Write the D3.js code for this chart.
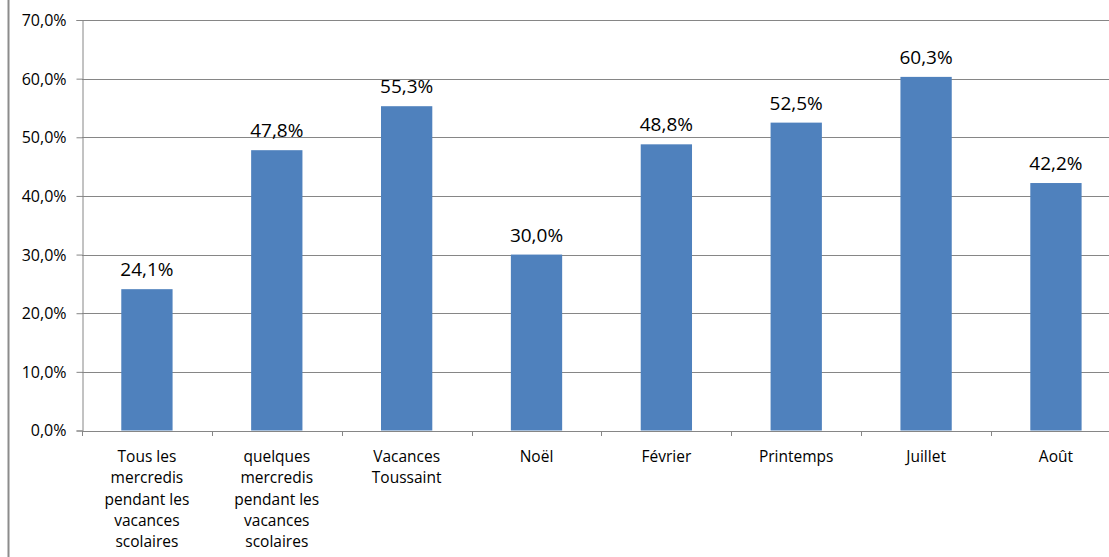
<!DOCTYPE html>
<html><head><meta charset="utf-8">
<script src="https://cdn.jsdelivr.net/npm/d3@7/dist/d3.min.js"></script>
<style>body{margin:0;background:#fff;}svg{display:block;}text{font-family:"Open Sans",sans-serif;fill:#000;}</style>
</head><body>
<svg id="c" width="1109" height="557"></svg>
<script>
const categories = [
  ["Tous les","mercredis","pendant les","vacances","scolaires"],
  ["quelques","mercredis","pendant les","vacances","scolaires"],
  ["Vacances","Toussaint"],
  ["Noël"],
  ["Février"],
  ["Printemps"],
  ["Juillet"],
  ["Août"]
];
const values = [24.1, 47.8, 55.3, 30.0, 48.8, 52.5, 60.3, 42.2];
const yTicks = [0,10,20,30,40,50,60,70];

(function(){
const svg = d3.select("#c");
const pLeft = 82, step = 129.86, pRight = pLeft + step*8, pTop = 20, pBottom = 430.5;
const x = d3.scaleBand().domain(d3.range(categories.length)).range([pLeft,pRight]).paddingInner(0.605).paddingOuter(0.3025);
const y = d3.scaleLinear().domain([0,70]).range([pBottom,pTop]);
const fmt = v => v.toFixed(1).replace(".", ",") + "%";
const grey = "#868686";

svg.append("line").attr("x1",8.5).attr("x2",8.5).attr("y1",0).attr("y2",557).attr("stroke","#8c8c8c").attr("stroke-width",2);

svg.append("g").selectAll("line").data(yTicks.filter(t=>t>0)).join("line")
  .attr("x1",pLeft).attr("x2",pRight).attr("y1",d=>Math.round(y(d))+0.5).attr("y2",d=>Math.round(y(d))+0.5)
  .attr("stroke",grey).attr("stroke-width",1);

const yAxis = d3.axisLeft(y).tickValues(yTicks).tickSize(6).tickPadding(10).tickFormat(fmt);
const gy = svg.append("g").attr("transform",`translate(${pLeft+0.5},0)`).call(yAxis);
gy.select(".domain").attr("stroke",grey);
gy.selectAll(".tick line").attr("stroke",grey);
gy.selectAll(".tick text").attr("font-size",16).attr("font-family","Open Sans").attr("fill","#000").attr("dy","0.34em");

svg.append("g").selectAll("rect").data(values).join("rect")
  .attr("x",(d,i)=>x(i)).attr("width",x.bandwidth())
  .attr("y",d=>y(d)).attr("height",d=>pBottom-y(d))
  .attr("fill","#4f81bd");

svg.append("line").attr("x1",pLeft).attr("x2",pRight).attr("y1",Math.round(pBottom)+0.5).attr("y2",Math.round(pBottom)+0.5).attr("stroke",grey);
svg.append("g").selectAll("line").data(d3.range(categories.length+1)).join("line")
  .attr("x1",i=>Math.round(pLeft+i*step)+0.5).attr("x2",i=>Math.round(pLeft+i*step)+0.5)
  .attr("y1",Math.round(pBottom)).attr("y2",Math.round(pBottom)+5).attr("stroke",grey);

svg.append("g").selectAll("text").data(values).join("text")
  .attr("x",(d,i)=>x(i)+x.bandwidth()/2).attr("y",d=>y(d)-13)
  .attr("text-anchor","middle").attr("font-size",19).text(fmt);

const cg = svg.append("g").selectAll("text").data(categories).join("text")
  .attr("text-anchor","middle").attr("font-size",15.5)
  .attr("x",(d,i)=>x(i)+x.bandwidth()/2).attr("y",462);
cg.selectAll("tspan").data(d=>d).join("tspan")
  .attr("x",function(){return this.parentNode.getAttribute("x");})
  .attr("dy",(d,i)=>i===0?0:21.3).text(d=>d);
})();
</script>
</body></html>
